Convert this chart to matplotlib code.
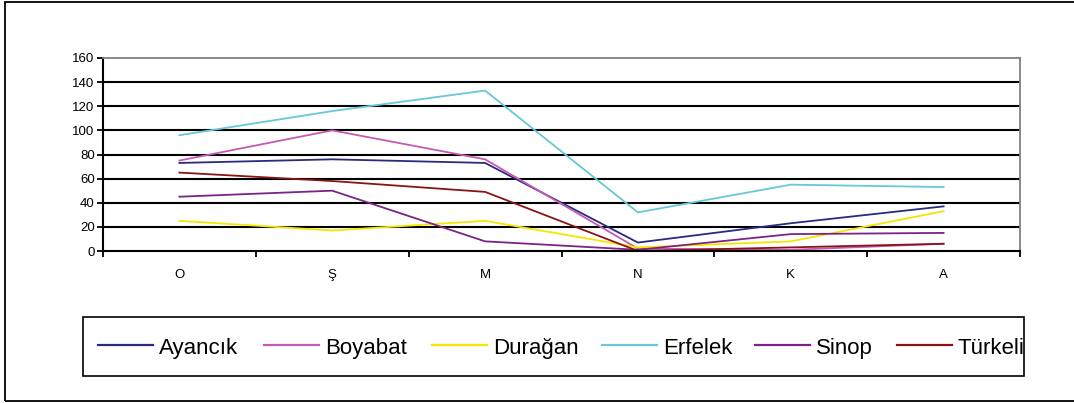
import matplotlib
matplotlib.use("Agg")
import matplotlib.pyplot as plt
from matplotlib.patches import Rectangle
from matplotlib.lines import Line2D

plt.rcParams['font.family'] = ['Liberation Sans', 'DejaVu Sans']

months = ["O", "Ş", "M", "N", "K", "A"]
ayancik = [73, 76, 73, 7, 23, 37]
boyabat = [75, 100, 76, 2, 1, 6]
duragan = [25, 17, 25, 3, 8, 33]
erfelek = [96, 116, 133, 32, 55, 53]
sinop = [45, 50, 8, 1, 14, 15]
turkeli = [65, 58, 49, 0, 3, 6]

series = [
    ("Ayancık", ayancik, "#2a2a7e"),
    ("Boyabat", boyabat, "#c55ab4"),
    ("Durağan", duragan, "#f5e600"),
    ("Erfelek", erfelek, "#66c8d8"),
    ("Sinop", sinop, "#7b2486"),
    ("Türkeli", turkeli, "#8a1414"),
]

W, H = 1074, 403
fig = plt.figure(figsize=(W / 100, H / 100), dpi=100)
ax = fig.add_axes([103 / W, 152 / H, 917 / W, 193 / H])

x = [i + 0.5 for i in range(len(months))]
for name, vals, col in series:
    ax.plot(x, vals, color=col, lw=1.3, label=name)

ax.set_xlim(0, 6)
ax.set_ylim(0, 160)
ax.set_yticks(range(0, 161, 20))
ax.set_xticks(range(0, 7))
ax.set_xticklabels([])
ax.set_xticks(x, minor=True)
ax.set_xticklabels(months, minor=True)
ax.tick_params(axis='x', which='minor', length=0, pad=13, labelsize=9.5)
ax.tick_params(axis='x', which='major', direction='out', length=4, width=1.3)
ax.tick_params(axis='y', direction='out', length=4, width=1.3, labelsize=9.5, pad=2)

for v in range(20, 160, 20):
    ax.axhline(v, color='black', lw=1.5, zorder=0.5)

ax.spines['left'].set_linewidth(1.5)
ax.spines['bottom'].set_linewidth(1.5)
ax.spines['top'].set_color('#808080')
ax.spines['right'].set_color('#808080')
ax.spines['top'].set_linewidth(1.3)
ax.spines['right'].set_linewidth(1.3)

# legend drawn by hand so all labels share one baseline
leg_x = [98, 264, 432, 602, 755, 897]
line_y = (H - 345) / H
text_y = (H - 354) / H
for lx, (name, vals, col) in zip(leg_x, series):
    fig.add_artist(Line2D([lx / W, (lx + 55) / W], [line_y, line_y],
                          color=col, lw=1.6, transform=fig.transFigure))
    fig.text((lx + 61) / W, text_y, name, fontsize=16, va='baseline', ha='left')

# legend box
fig.patches.append(Rectangle((83 / W, (H - 376) / H), 941 / W, 59 / H,
                             transform=fig.transFigure, fill=False,
                             edgecolor='black', lw=1.2))
# outer chart frame
fig.patches.append(Rectangle((5 / W, 2 / H), 1.1, 399 / H, transform=fig.transFigure,
                             fill=False, edgecolor='black', lw=1.3))

fig.savefig("out.png", dpi=100)
